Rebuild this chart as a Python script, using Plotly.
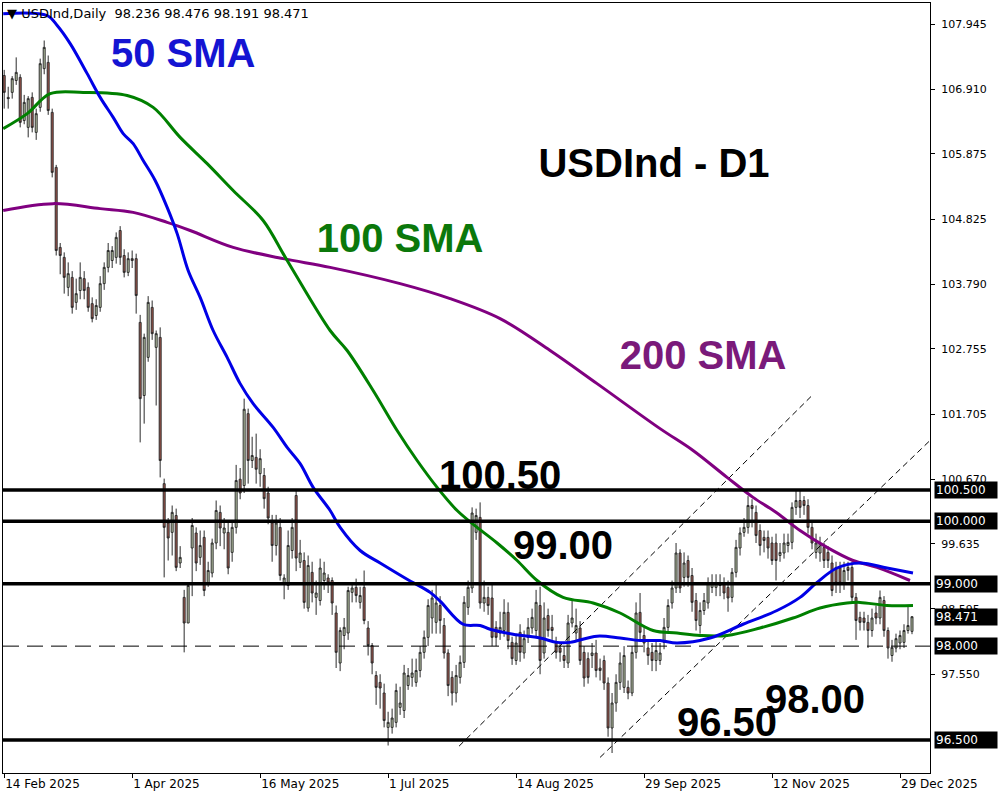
import plotly.graph_objects as go

# daily bars, 14 Feb 2025 -> 2 Jan 2026 (bar number on x)
opens = [
    107.13, 106.78, 106.86, 107.05, 107.10, 106.41, 106.30, 106.78, 106.22, 106.62,
    107.24, 107.34, 106.54, 105.66, 104.38, 104.22, 103.74, 103.90, 103.50, 103.69,
    103.88, 103.74, 103.48, 103.29, 103.42, 103.80, 104.06, 104.17, 104.22, 104.65,
    104.25, 103.98, 104.20, 104.20, 103.18, 102.01, 102.62, 103.42, 102.78, 102.94,
    100.60, 99.97, 99.82, 100.09, 99.33, 98.78, 98.37, 99.57, 99.81, 99.42,
    99.74, 99.01, 99.17, 99.65, 100.14, 99.81, 99.82, 99.50, 99.90, 100.67,
    100.57, 101.72, 100.97, 101.02, 100.76, 100.73, 100.45, 99.97, 99.61, 99.90,
    99.01, 98.97, 99.53, 100.41, 99.34, 99.37, 98.61, 99.18, 98.78, 98.73,
    99.05, 99.09, 99.05, 98.53, 97.73, 98.17, 98.21, 98.86, 98.94, 98.70,
    98.94, 98.29, 98.01, 97.53, 97.42, 97.25, 96.70, 96.70, 96.78, 97.02,
    96.97, 97.37, 97.50, 97.42, 97.61, 97.90, 98.14, 98.45, 98.38, 98.65,
    98.33, 97.89, 97.50, 97.25, 97.50, 97.74, 98.62, 98.93, 99.82, 100.06,
    98.69, 98.78, 98.77, 98.30, 98.21, 98.25, 98.54, 98.06, 97.77, 98.22,
    97.89, 98.14, 98.29, 98.25, 98.65, 97.89, 98.49, 98.30, 98.05, 97.97,
    97.85, 97.73, 98.37, 98.21, 98.29, 97.90, 97.80, 97.85, 97.89, 97.65,
    97.77, 97.41, 96.69, 97.09, 97.42, 97.34, 97.34, 97.25, 97.90, 98.54,
    98.17, 97.97, 97.90, 97.77, 97.77, 98.06, 98.30, 98.69, 98.93, 99.49,
    99.10, 99.37, 99.13, 98.73, 98.33, 98.57, 98.69, 98.94, 98.94, 99.01,
    99.01, 98.94, 98.78, 99.18, 99.57, 99.82, 99.90, 100.25, 100.14, 99.85,
    99.74, 99.74, 99.65, 99.65, 99.45, 99.49, 99.61, 99.66, 100.22, 100.33,
    100.33, 100.25, 99.90, 99.50, 99.49, 99.58, 99.50, 99.33, 99.26, 99.25,
    99.01, 99.26, 99.26, 98.78, 98.46, 98.45, 98.38, 98.25, 98.53, 98.45,
    98.73, 98.25, 97.85, 97.97, 98.05, 98.06, 98.25, 98.236,
]
highs = [
    107.22, 106.95, 107.12, 107.42, 107.15, 106.82, 106.80, 106.86, 106.60, 107.40,
    107.69, 107.45, 106.60, 105.70, 104.45, 104.30, 104.14, 104.00, 103.88, 104.14,
    104.00, 103.82, 103.58, 103.55, 103.92, 104.14, 104.45, 104.40, 104.62, 104.72,
    104.35, 104.30, 104.33, 104.28, 103.30, 103.00, 103.60, 103.53, 103.05, 103.10,
    100.68, 100.05, 100.25, 100.20, 99.60, 98.90, 99.01, 100.05, 99.90, 99.85,
    99.85, 99.35, 99.72, 100.33, 100.25, 100.05, 100.00, 100.00, 100.90, 100.85,
    101.96, 101.80, 101.35, 101.40, 101.15, 100.85, 100.55, 100.10, 100.10, 100.05,
    99.15, 99.85, 100.05, 100.49, 99.70, 99.50, 99.45, 99.35, 99.05, 99.40,
    99.35, 99.15, 99.10, 98.65, 98.30, 98.45, 98.95, 99.00, 99.08, 98.95,
    99.21, 98.40, 98.05, 97.60, 97.55, 97.40, 96.95, 97.00, 97.40, 97.35,
    97.70, 97.65, 97.80, 97.80, 98.00, 98.25, 98.75, 98.90, 99.00, 98.80,
    98.45, 97.95, 97.60, 97.70, 97.85, 98.80, 99.05, 100.22, 100.20, 100.30,
    99.05, 98.95, 99.00, 98.40, 98.55, 98.75, 98.70, 98.15, 98.20, 98.35,
    98.25, 98.45, 98.60, 98.90, 98.95, 98.70, 98.60, 98.50, 98.15, 98.05,
    98.00, 98.50, 98.75, 98.60, 98.40, 98.00, 97.90, 98.05, 98.10, 97.80,
    97.85, 97.50, 97.25, 97.55, 97.90, 98.00, 97.45, 98.00, 98.70, 98.85,
    98.30, 98.10, 98.05, 98.10, 98.05, 98.45, 98.75, 99.05, 99.65, 99.55,
    99.50, 99.45, 99.25, 98.85, 98.70, 98.85, 99.10, 99.15, 99.15, 99.15,
    99.10, 99.05, 99.25, 99.70, 99.90, 100.05, 100.40, 100.35, 100.25, 99.95,
    99.85, 99.85, 99.75, 99.80, 99.65, 99.80, 99.80, 100.30, 100.49, 100.49,
    100.40, 100.35, 100.00, 99.80, 99.75, 99.65, 99.60, 99.45, 99.35, 99.35,
    99.35, 99.35, 99.35, 98.85, 98.55, 98.55, 98.50, 98.60, 98.65, 98.89,
    98.80, 98.30, 98.10, 98.20, 98.25, 98.35, 98.65, 98.476,
]
lows = [
    106.60, 106.60, 106.76, 106.98, 106.30, 106.35, 106.14, 106.22, 106.10, 106.55,
    107.15, 106.50, 105.50, 104.25, 103.95, 103.64, 103.60, 103.32, 103.38, 103.55,
    103.55, 103.35, 103.18, 103.22, 103.35, 103.70, 103.98, 104.05, 104.12, 104.10,
    103.90, 103.92, 104.05, 103.32, 101.26, 101.56, 102.55, 102.90, 101.85, 100.70,
    99.10, 99.37, 99.45, 99.20, 99.25, 97.90, 98.37, 98.80, 99.20, 99.30,
    98.80, 98.95, 99.10, 99.55, 99.60, 99.55, 99.15, 99.35, 99.80, 100.35,
    100.45, 100.60, 100.85, 100.60, 100.55, 100.20, 99.95, 99.35, 99.45, 99.05,
    98.75, 98.90, 99.40, 99.20, 99.25, 98.60, 98.55, 98.70, 98.50, 98.65,
    98.90, 98.85, 98.50, 97.65, 97.60, 97.95, 98.10, 98.70, 98.70, 98.60,
    98.35, 97.85, 97.55, 97.06, 97.00, 96.70, 96.41, 96.60, 96.70, 96.90,
    96.85, 97.30, 97.35, 97.35, 97.50, 97.80, 98.00, 98.20, 98.20, 98.20,
    97.80, 97.20, 97.05, 97.10, 97.40, 97.65, 98.50, 98.85, 99.70, 98.60,
    98.55, 98.50, 98.00, 98.00, 98.10, 98.15, 97.95, 97.70, 97.70, 97.75,
    97.80, 98.05, 98.20, 98.15, 97.55, 97.80, 98.15, 98.10, 97.80, 97.75,
    97.65, 97.65, 98.30, 98.10, 97.70, 97.35, 97.40, 97.65, 97.50, 97.45,
    97.30, 96.55, 96.29, 96.95, 97.30, 97.25, 97.15, 97.20, 97.80, 98.10,
    97.90, 97.70, 97.60, 97.60, 97.70, 97.95, 98.20, 98.60, 98.85, 98.85,
    98.95, 98.95, 98.55, 98.25, 98.20, 98.50, 98.60, 98.85, 98.80, 98.80,
    98.75, 98.55, 98.70, 99.10, 99.45, 99.75, 99.80, 99.90, 99.65, 99.45,
    99.50, 99.40, 99.30, 99.05, 99.35, 99.40, 99.50, 99.55, 100.10, 100.05,
    100.10, 99.80, 99.55, 99.40, 99.35, 99.25, 99.25, 98.80, 98.85, 98.85,
    98.90, 99.05, 98.70, 98.10, 98.25, 98.25, 97.97, 98.15, 98.35, 98.35,
    98.15, 97.80, 97.75, 97.90, 97.95, 97.97, 98.20, 98.191,
]
closes = [
    106.86, 106.76, 107.08, 107.18, 106.38, 106.70, 106.76, 106.30, 106.52, 107.32,
    107.58, 106.57, 105.58, 104.33, 104.25, 103.90, 103.96, 103.42, 103.64, 103.90,
    103.69, 103.42, 103.24, 103.45, 103.80, 104.06, 104.33, 104.33, 104.54, 104.22,
    103.98, 104.20, 104.17, 103.61, 101.96, 102.94, 103.50, 103.00, 103.00, 100.97,
    99.90, 99.73, 100.14, 99.26, 99.42, 98.37, 98.97, 99.93, 99.33, 99.61,
    98.89, 99.21, 99.65, 100.17, 99.89, 99.89, 99.25, 99.90, 100.65, 100.45,
    101.79, 100.97, 101.05, 100.83, 101.00, 100.36, 100.05, 99.61, 99.97, 99.13,
    99.09, 99.61, 99.90, 99.41, 99.49, 98.70, 99.29, 98.85, 98.85, 99.25,
    99.17, 99.01, 98.69, 97.90, 98.25, 98.30, 98.89, 98.93, 98.81, 98.81,
    98.41, 98.01, 97.73, 97.34, 97.33, 96.81, 96.78, 96.85, 97.29, 97.09,
    97.57, 97.53, 97.57, 97.61, 97.90, 98.14, 98.65, 98.77, 98.69, 98.41,
    97.89, 97.37, 97.25, 97.53, 97.74, 98.70, 98.94, 100.13, 100.09, 98.69,
    98.78, 98.65, 98.14, 98.14, 98.30, 98.54, 98.09, 97.80, 98.05, 97.90,
    98.12, 98.30, 98.46, 98.70, 97.77, 98.45, 98.25, 98.25, 97.90, 97.90,
    97.77, 98.37, 98.45, 98.33, 97.77, 97.49, 97.50, 97.89, 97.61, 97.61,
    97.41, 96.69, 97.09, 97.42, 97.73, 97.85, 97.25, 97.90, 98.53, 98.22,
    98.05, 97.85, 97.77, 97.93, 97.89, 98.30, 98.65, 98.93, 99.49, 98.93,
    99.33, 99.10, 98.70, 98.41, 98.57, 98.73, 99.01, 99.01, 99.01, 98.97,
    98.85, 98.77, 99.18, 99.58, 99.81, 99.90, 100.25, 100.20, 99.77, 99.61,
    99.69, 99.57, 99.37, 99.37, 99.50, 99.65, 99.66, 100.22, 100.33, 100.22,
    100.25, 99.90, 99.65, 99.65, 99.65, 99.37, 99.37, 98.89, 99.01, 99.01,
    99.21, 99.21, 98.78, 98.41, 98.38, 98.38, 98.25, 98.45, 98.45, 98.78,
    98.25, 97.97, 97.98, 98.12, 98.17, 98.25, 98.33, 98.471,
]
bars = list(range(len(closes)))

# moving averages (bar number, value)
sma50_bar = [-0.25, 10.75, 13.25, 16.5, 20.75, 24, 27.25, 29.75, 32.25, 34.75, 37.75, 40.75,
             43.25, 46, 49, 52.25, 55.75, 59, 62.25, 67.25, 70.75, 74, 77.25, 81.5, 84, 89,
             94, 100.75, 106.5, 109, 114.75, 119, 121.5, 127.25, 134, 138.25, 141.5, 148.25,
             154, 159, 164, 168.25, 176.5, 184.75, 193.25, 199, 203.25, 208.25, 214, 220.75,
             227.25]
sma50_val = [108.12, 108.09, 107.93, 107.64, 107.16, 106.78, 106.46, 106.20, 106.04, 105.77,
             105.45, 105.02, 104.60, 104.01, 103.58, 103.05, 102.62, 102.20, 101.88, 101.50,
             101.18, 100.92, 100.54, 100.17, 99.90, 99.53, 99.33, 99.07, 98.86, 98.72, 98.35,
             98.33, 98.27, 98.19, 98.13, 98.06, 98.06, 98.16, 98.13, 98.09, 98.09, 98.05,
             98.13, 98.35, 98.57, 98.78, 99.02, 99.25, 99.33, 99.25, 99.17]
sma100_bar = [-0.25, 5.75, 11.5, 19.75, 30.75, 37.25, 44, 50.75, 57.25, 64.75, 69.75, 72.25,
              81.5, 85.75, 92.25, 98.25, 103.25, 108.25, 113.25, 118.25, 123.25, 128.25,
              133.25, 139.75, 147.25, 154, 162.25, 168.25, 174, 180.75, 189, 197.25, 204,
              210.75, 214, 220.75, 227.25]
sma100_val = [106.28, 106.52, 106.84, 106.86, 106.81, 106.62, 106.14, 105.72, 105.29, 104.81,
              104.28, 104.01, 103.05, 102.73, 102.09, 101.45, 100.97, 100.54, 100.17, 99.90,
              99.65, 99.37, 99.05, 98.78, 98.69, 98.53, 98.25, 98.21, 98.17, 98.17, 98.29,
              98.45, 98.61, 98.69, 98.70, 98.65, 98.65]
sma200_bar = [-0.25, 12.25, 24, 32.25, 40.75, 46.5, 57.25, 69.75, 81.5, 99, 111.5, 124,
              136.5, 148.25, 164, 172.25, 180.75, 187.25, 193.25, 199, 205.75, 212.25,
              218.25, 226.5]
sma200_val = [104.97, 105.08, 105.00, 104.94, 104.78, 104.65, 104.38, 104.20, 104.06, 103.80,
              103.56, 103.24, 102.73, 102.20, 101.48, 101.13, 100.70, 100.38, 100.13, 99.85,
              99.58, 99.37, 99.26, 99.05]

# drawn levels and channel
levels = [100.5, 100.0, 99.0, 96.5]
pivot = 98.0
channel_bar = [[113.75, 202.0], [149.0, 231.5]]
channel_val = [[96.40, 102.01], [96.22, 101.29]]

tick_bars = [0, 32, 64, 96, 128, 160, 192, 224]
tick_dates = ['14 Feb 2025', '1 Apr 2025', '16 May 2025', '1 Jul 2025',
              '14 Aug 2025', '29 Sep 2025', '12 Nov 2025', '29 Dec 2025']
price_ticks = [107.945, 106.910, 105.875, 104.825, 103.790, 102.755,
               101.705, 100.670, 99.635, 98.595, 97.550]
price_boxes = [100.5, 100.0, 99.0, closes[-1], 98.0, 96.5]

fig = go.Figure()

# big labels sit under the lines, like on the terminal
labels = [
    ('50 SMA', 44.75, 107.43, '#1414d2'),
    ('100 SMA', 99.0, 104.46, '#0b780b'),
    ('200 SMA', 174.75, 102.60, '#7a1a7a'),
    ('USDInd - D1', 162.5, 105.66, 'black'),
    ('100.50', 124.0, 100.68, 'black'),
    ('99.00', 139.75, 99.56, 'black'),
    ('98.00', 202.75, 97.09, 'black'),
    ('96.50', 180.75, 96.72, 'black'),
]
for txt, bx, by, col in labels:
    fig.add_trace(go.Scatter(
        x=[bx], y=[by], mode='text', text=['<b>' + txt + '</b>'],
        textfont=dict(family='Liberation Sans', size=40, color=col),
        hoverinfo='skip', showlegend=False))

for cb, cv in zip(channel_bar, channel_val):
    fig.add_trace(go.Scatter(x=cb, y=cv, mode='lines',
                             line=dict(color='black', width=1, dash='6px,4px'),
                             hoverinfo='skip', showlegend=False))

fig.add_trace(go.Candlestick(
    x=bars, open=opens, high=highs, low=lows, close=closes,
    increasing=dict(fillcolor='#c3d1ae', line=dict(color='#2b2b2b', width=1)),
    decreasing=dict(fillcolor='#a5574c', line=dict(color='#2b2b2b', width=1)),
    whiskerwidth=0, showlegend=False, name='USDInd'))

for xs, ys, col in [(sma200_bar, sma200_val, '#800080'),
                    (sma100_bar, sma100_val, '#008000'),
                    (sma50_bar, sma50_val, '#0000e6')]:
    fig.add_trace(go.Scatter(x=xs, y=ys, mode='lines',
                             line=dict(color=col, width=3, shape='spline'),
                             hoverinfo='skip', showlegend=False))

for lv in levels:
    fig.add_shape(type='line', xref='paper', x0=0, x1=1, y0=lv, y1=lv,
                  line=dict(color='black', width=3.5), layer='above')
fig.add_shape(type='line', xref='paper', x0=0, x1=1, y0=pivot, y1=pivot,
              line=dict(color='black', width=1, dash='16px,8px'), layer='above')

for pb in price_boxes:
    fig.add_annotation(x=1, xref='paper', y=pb, yref='y', text=f'{pb:.3f}',
                       showarrow=False, xanchor='left', xshift=4, width=60, align='left',
                       bgcolor='black', borderpad=1,
                       font=dict(family='DejaVu Sans', size=12, color='white'))

head = '&#9660; USDInd,Daily  {:.3f} {:.3f} {:.3f} {:.3f}'.format(
    opens[-1], highs[-1], lows[-1], closes[-1])
fig.add_annotation(x=0, xref='paper', y=1, yref='paper', text=head, showarrow=False,
                   xanchor='left', yanchor='top', xshift=2, yshift=-1,
                   font=dict(family='DejaVu Sans', size=13, color='black'))

fig.update_layout(
    width=1000, height=800,
    margin=dict(l=3, r=70, t=3, b=27),
    paper_bgcolor='white', plot_bgcolor='white',
    showlegend=False,
    xaxis=dict(range=[-0.3, 231.5], tickvals=tick_bars, ticktext=tick_dates,
               ticks='outside', ticklen=4, tickcolor='black', showgrid=False,
               zeroline=False, showline=True, mirror=True, linecolor='black',
               linewidth=1, rangeslider=dict(visible=False),
               ticklabelposition='outside right',
               tickfont=dict(family='DejaVu Sans', size=12, color='black')),
    yaxis=dict(range=[95.97, 108.29], side='right', tickvals=price_ticks,
               ticktext=[f'{v:.3f}' for v in price_ticks],
               ticks='outside', ticklen=4, tickcolor='black', showgrid=False,
               zeroline=False, showline=True, mirror=True, linecolor='black',
               linewidth=1, ticklabelstandoff=4,
               tickfont=dict(family='DejaVu Sans', size=11, color='black')),
)

fig.write_html('out.html', config={'displayModeBar': False},
               post_script="document.body.style.margin='0';")
